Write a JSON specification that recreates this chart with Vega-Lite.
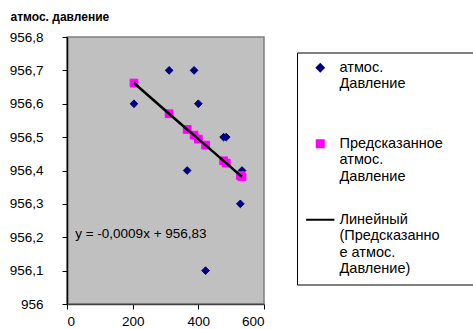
{
  "$schema": "https://vega.github.io/schema/vega-lite/v6.json",
  "width": 197,
  "height": 267,
  "autosize": {"type": "none"},
  "padding": {"left": 67, "top": 37, "right": 209, "bottom": 25},
  "background": "white",
  "datasets": {
    "pts": [
      {"x": 204, "y": 956.6, "s": "атмос. Давление"},
      {"x": 311, "y": 956.7, "s": "атмос. Давление"},
      {"x": 387, "y": 956.7, "s": "атмос. Давление"},
      {"x": 400, "y": 956.6, "s": "атмос. Давление"},
      {"x": 477, "y": 956.5, "s": "атмос. Давление"},
      {"x": 485, "y": 956.5, "s": "атмос. Давление"},
      {"x": 366, "y": 956.4, "s": "атмос. Давление"},
      {"x": 533, "y": 956.4, "s": "атмос. Давление"},
      {"x": 528, "y": 956.3, "s": "атмос. Давление"},
      {"x": 422, "y": 956.1, "s": "атмос. Давление"},
      {"x": 204, "y": 956.662, "s": "Предсказанное атмос. Давление"},
      {"x": 311, "y": 956.570, "s": "Предсказанное атмос. Давление"},
      {"x": 366, "y": 956.523, "s": "Предсказанное атмос. Давление"},
      {"x": 387, "y": 956.506, "s": "Предсказанное атмос. Давление"},
      {"x": 400, "y": 956.494, "s": "Предсказанное атмос. Давление"},
      {"x": 422, "y": 956.476, "s": "Предсказанное атмос. Давление"},
      {"x": 477, "y": 956.429, "s": "Предсказанное атмос. Давление"},
      {"x": 485, "y": 956.422, "s": "Предсказанное атмос. Давление"},
      {"x": 528, "y": 956.385, "s": "Предсказанное атмос. Давление"},
      {"x": 533, "y": 956.381, "s": "Предсказанное атмос. Давление"}
    ],
    "eq": [{"x": 25, "y": 956.21, "label": "y = -0,0009x + 956,83"}]
  },
  "layer": [
    {
      "data": {"name": "pts"},
      "mark": {"type": "point", "filled": true, "opacity": 1, "strokeWidth": 1, "size": 60},
      "encoding": {
        "x": {"field": "x", "type": "quantitative", "scale": {"domain": [0, 600], "nice": false},
              "axis": {"values": [0, 200, 400, 600], "tickCount": 10, "format": "d", "title": null, "labelPadding": 5}},
        "y": {"field": "y", "type": "quantitative", "scale": {"domain": [956, 956.8], "zero": false, "nice": false},
              "axis": {"values": [956, 956.1, 956.2, 956.3, 956.4, 956.5, 956.6, 956.7, 956.8], "tickCount": 20,
                       "labelExpr": "replace(format(datum.value, '.1~f'), '.', ',')",
                       "labelOverlap": false,
                       "title": "атмос. давление", "titleAngle": 0, "titleX": -57, "titleY": -16.5,
                       "titleAlign": "left", "titleBaseline": "alphabetic",
                       "titleFont": "Liberation Sans", "titleFontSize": 12, "titleFontWeight": "bold", "titleColor": "black",
                       "labelPadding": 19, "domainColor": "black"}},
        "fill": {"field": "s", "type": "nominal",
                 "scale": {"domain": ["атмос. Давление", "Предсказанное атмос. Давление", "Линейный (Предсказанное атмос. Давление)"],
                           "range": ["#000080", "#FF00FF", "#000000"]},
                 "legend": {"title": null,
                   "encoding": {"labels": {"dy": {"value": 4}}},
                   "labelExpr": "datum.label == 'атмос. Давление' ? ['атмос.', 'Давление'] : datum.label == 'Предсказанное атмос. Давление' ? ['Предсказанное\u00a0\u00a0\u00a0\u00a0\u00a0\u00a0\u200b', 'атмос.', 'Давление'] : ['Линейный', '(Предсказанно', 'е атмос.', 'Давление)']"}},
        "stroke": {"field": "s", "type": "nominal",
                 "scale": {"domain": ["атмос. Давление", "Предсказанное атмос. Давление", "Линейный (Предсказанное атмос. Давление)"],
                           "range": ["#000080", "#FF00FF", "#000000"]},
                 "legend": {"title": null,
                   "encoding": {"labels": {"dy": {"value": 4}}},
                   "labelExpr": "datum.label == 'атмос. Давление' ? ['атмос.', 'Давление'] : datum.label == 'Предсказанное атмос. Давление' ? ['Предсказанное\u00a0\u00a0\u00a0\u00a0\u00a0\u00a0\u200b', 'атмос.', 'Давление'] : ['Линейный', '(Предсказанно', 'е атмос.', 'Давление)']"}},
        "shape": {"field": "s", "type": "nominal",
                 "scale": {"domain": ["атмос. Давление", "Предсказанное атмос. Давление", "Линейный (Предсказанное атмос. Давление)"],
                           "range": ["diamond", "square", "M-4,0L4,0"]},
                 "legend": {"title": null,
                   "encoding": {"labels": {"dy": {"value": 4}}},
                   "labelExpr": "datum.label == 'атмос. Давление' ? ['атмос.', 'Давление'] : datum.label == 'Предсказанное атмос. Давление' ? ['Предсказанное\u00a0\u00a0\u00a0\u00a0\u00a0\u00a0\u200b', 'атмос.', 'Давление'] : ['Линейный', '(Предсказанно', 'е атмос.', 'Давление)']"}}
      }
    },
    {
      "data": {"name": "pts"},
      "transform": [{"filter": "datum.s == 'Предсказанное атмос. Давление'"}],
      "mark": {"type": "line", "color": "black", "strokeWidth": 2.5},
      "encoding": {
        "x": {"field": "x", "type": "quantitative"},
        "y": {"field": "y", "type": "quantitative"}
      }
    },
    {
      "data": {"name": "eq"},
      "mark": {"type": "text", "align": "left", "baseline": "middle", "font": "Liberation Sans", "fontSize": 13.5, "color": "black"},
      "encoding": {
        "x": {"field": "x", "type": "quantitative"},
        "y": {"field": "y", "type": "quantitative"},
        "text": {"field": "label"}
      }
    }
  ],
  "config": {
    "view": {"fill": "#C0C0C0", "stroke": "#808080", "strokeWidth": 1.5},
    "axis": {"grid": false, "labelFont": "Liberation Sans", "labelFontSize": 13.5, "labelColor": "black",
             "tickColor": "black", "tickSize": 5, "domainColor": "#404040", "domainWidth": 1.5, "labelOverlap": false},
    "legend": {
      "orient": "none", "legendX": 230, "legendY": 15.5,
      "strokeColor": "black", "fillColor": "white", "padding": 8,
      "symbolSize": 50, "symbolStrokeWidth": 2, "symbolOffset": 8,
      "labelFont": "Liberation Sans", "labelFontSize": 14.5, "labelLineHeight": 17, "labelColor": "black",
      "labelBaseline": "alphabetic", "labelLimit": 300, "labelOffset": 12,
      "gridAlign": "all", "rowPadding": 11
    }
  }
}
